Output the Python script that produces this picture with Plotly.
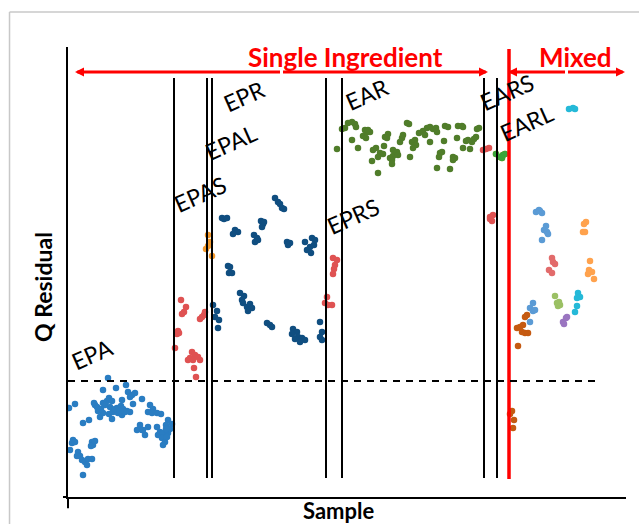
import plotly.graph_objects as go

# ---- data: Q residual per sample (sample index on x) ----
epa_x = [40, 35, 48, 58, 60, 64, 62, 67, 74,
         1, 7, 27, 29, 35, 39, 41, 42, 45, 49, 53, 55, 59, 62, 65,
         32, 35, 41, 45, 50, 54, 57, 44, 21, 15,
         82, 85, 80, 84, 89, 93, 100, 98, 104,
         72, 74, 69, 77, 80, 89, 92, 90, 95, 100, 102,
         94, 97, 99, 95,
         5, 4, 2, 7, 24, 25, 23, 27,
         10, 12, 9, 14, 17, 20, 24, 19, 15,
         37, 54, 75, 98, 47, 52, 30, 33, 26, 44]
epa_q = [119, 107, 109, 112, 105, 102, 100, 104, 98,
         89, 93, 92, 90, 94, 96, 99, 90, 87, 89, 91, 88, 86, 85, 93,
         80, 84, 83, 85, 84, 82, 85, 78, 77, 74,
         92, 88, 85, 84, 84, 83, 77, 72, 73,
         72, 67, 67, 62, 70, 70, 65, 62, 64, 64, 68,
         59, 55, 60, 52,
         57, 54, 47, 55, 55, 52, 51, 56,
         45, 41, 41, 37, 35, 38, 38, 32, 22,
         92, 97, 67, 68, 88, 86, 86, 88, 94, 96]

epas_x = [113, 118, 116, 114, 137, 134, 132, 136, 110, 109, 111, 107,
          124, 127, 122, 120, 130, 132, 125, 126, 128]
epas_q = [197, 190, 185, 183, 185, 180, 178, 182, 166, 163, 164, 149,
          145, 142, 139, 137, 140, 137, 137, 129, 120]

epal_x = [140, 142, 140, 138, 144]
epal_q = [262, 255, 251, 248, 241]

epr_x = [207, 210, 212, 214, 216, 154, 156, 159, 193, 195, 194, 196,
         167, 170, 165, 186, 189, 187, 190, 219, 222, 220,
         237, 244, 247, 242, 239, 243, 246, 160, 162, 161, 164,
         172, 176, 174, 175, 179, 182, 184, 180, 199, 202, 204,
         225, 229, 224, 230, 227, 234, 237, 232, 252, 254, 252, 254,
         145, 149, 147, 151, 150]
epr_q = [299, 295, 293, 289, 288, 279, 278, 279, 276, 273, 270, 275,
         267, 265, 263, 262, 259, 255, 257, 255, 254, 252,
         255, 259, 257, 250, 247, 244, 252, 231, 230, 224, 224,
         204, 201, 197, 194, 190, 193, 189, 186, 174, 172, 170,
         168, 165, 163, 160, 158, 159, 157, 155, 175, 165, 160, 157,
         192, 186, 180, 177, 169]

eprs_x = [265, 269, 267, 266, 265, 259, 257, 260, 264]
eprs_q = [239, 237, 232, 228, 223, 200, 194, 192, 192]

ear_x = [274, 277, 280, 284, 287, 288, 269, 284, 290, 295, 299, 302, 298,
         297, 300, 305, 308, 312, 315, 310, 304, 310, 317, 320, 319, 316,
         322, 325, 324, 324, 325, 329, 330, 332, 334, 335, 339, 341, 342,
         344, 347, 348, 345, 351, 355, 359, 362, 365, 368, 357, 362, 369,
         372, 374, 371, 369, 377, 380, 376, 382, 385, 387, 385, 390, 394,
         395, 389, 395, 398, 400, 404, 406, 408, 402, 409, 411]
ear_q = [368, 369, 374, 375, 373, 370, 348, 357, 349, 361, 365, 365, 359,
         367, 367, 347, 349, 344, 343, 340, 336, 324, 360, 363, 359, 351,
         339, 341, 337, 333, 347, 345, 342, 355, 359, 362, 374, 373, 340,
         355, 357, 352, 349, 364, 366, 369, 370, 368, 369, 362, 355, 365,
         344, 345, 340, 329, 371, 370, 356, 328, 340, 339, 337, 371, 371,
         370, 359, 349, 356, 357, 355, 358, 360, 348, 368, 369]

ears_x = [415, 418, 421, 422, 425, 424, 422]
ears_q = [347, 348, 349, 280, 282, 276, 278]

earl_x = [428, 432, 435, 437, 434]
earl_q = [343, 340, 342, 343, 339]

# mixtures
mix1_x = [444, 446, 445, 442, 449, 452, 455, 457, 459, 454, 457, 460, 450]
mix1_q = [86, 77, 69, 83, 169, 170, 172, 180, 182, 165, 164, 164, 151]
mix2_x = [462, 465, 465, 467, 462, 468, 471, 474, 472, 478, 476, 479, 480, 474]
mix2_q = [189, 194, 186, 187, 175, 285, 287, 284, 286, 271, 267, 265, 263, 257]
mix3_x = [484, 485, 487, 481, 484]
mix3_q = [239, 235, 233, 227, 224]
mix4_x = [487, 489, 490, 492, 491]
mix4_q = [201, 194, 191, 192, 195]
mix5_x = [495, 498, 499, 496]
mix5_q = [175, 179, 180, 173]
mix6_x = [510, 512, 509, 509, 507, 501, 505, 507]
mix6_q = [204, 200, 199, 191, 185, 388, 389, 388]
mix7_x = [518, 516, 515, 517, 522, 521, 524, 520, 526]
mix7_q = [275, 273, 265, 265, 236, 227, 225, 223, 218]

# group boundaries (sample index) and labels
boundaries = [106, 139, 144, 258, 274, 416, 429]
mixed_start = 441
q_limit = 116
group_labels = ["EPA", "EPAS", "EPAL", "EPR", "EPRS", "EAR", "EARS", "EARL"]
label_x = [24, 132, 163, 176, 285, 299, 439, 458]
label_q = [143, 303, 355, 401, 281, 403, 405, 374]

series = [
    (epa_x, epa_q, "#2a7dc2"),
    (epas_x, epas_q, "#df5252"),
    (epal_x, epal_q, "#f39a2e"),
    (epr_x, epr_q, "#104e80"),
    (eprs_x, eprs_q, "#df5252"),
    (ear_x, ear_q, "#507d2a"),
    (ears_x, ears_q, "#df5252"),
    (earl_x, earl_q, "#f0a030"),
    (earl_x, earl_q, "#3aa63a"),
    (mix1_x, mix1_q, "#c55a11"),
    (mix2_x, mix2_q, "#5b9bd5"),
    (mix3_x, mix3_q, "#e26b6b"),
    (mix4_x, mix4_q, "#9bc064"),
    (mix5_x, mix5_q, "#9a75c0"),
    (mix6_x, mix6_q, "#25b9d8"),
    (mix7_x, mix7_q, "#ffa24d"),
]

FONT = "Lato"
fig = go.Figure()
for xs, qs, col in series:
    fig.add_trace(go.Scatter(x=xs, y=qs, mode="markers",
                             marker=dict(size=6.5, color=col),
                             showlegend=False, hoverinfo="x+y"))

shapes = []
for bx in boundaries:
    shapes.append(dict(type="line", xref="x", yref="y", x0=bx, x1=bx, y0=19, y1=419,
                       line=dict(color="black", width=2)))
shapes.append(dict(type="line", xref="x", yref="y", x0=mixed_start, x1=mixed_start,
                   y0=18, y1=448, line=dict(color="red", width=3.5)))
shapes.append(dict(type="line", xref="x", yref="y", x0=0, x1=527, y0=q_limit, y1=q_limit,
                   line=dict(color="black", width=2, dash="7px,6px")))
# axis stubs past the origin
shapes.append(dict(type="line", xref="paper", yref="paper", x0=0, x1=0, y0=0, y1=-0.025,
                   line=dict(color="black", width=2)))
shapes.append(dict(type="line", xref="paper", yref="paper", x0=-0.009, x1=0, y0=0, y1=0,
                   line=dict(color="black", width=2)))
# light frame
shapes.append(dict(type="line", xref="paper", yref="paper", x0=-0.1048, x1=-0.1048,
                   y0=-0.1, y1=1.0778, line=dict(color="#c8c8c8", width=1.5)))
shapes.append(dict(type="line", xref="paper", yref="paper", x0=-0.1048, x1=1.05,
                   y0=1.0778, y1=1.0778, line=dict(color="#c8c8c8", width=1.5)))

ann = []
for txt, lx, lq in zip(group_labels, label_x, label_q):
    ann.append(dict(x=lx, y=lq, xref="x", yref="y", text=txt, showarrow=False,
                    textangle=-24, font=dict(family=FONT, size=23, color="black")))

# double-headed range arrows
def double_arrow(x0, x1, y):
    mid = (x0 + x1) / 2
    out = []
    for tip in (x0, x1):
        out.append(dict(x=tip, y=y, ax=mid, ay=y, xref="x", yref="y", axref="x", ayref="y",
                        text="", showarrow=True, arrowhead=2, arrowsize=0.6,
                        arrowwidth=3, arrowcolor="red", standoff=0, startstandoff=0))
    return out

ann += double_arrow(7, 420, 425)
ann += double_arrow(440, 557, 425)
ann.append(dict(x=277, y=440, xref="x", yref="y", text="<b>Single Ingredient</b>", showarrow=False,
                font=dict(family=FONT, size=26, color="red")))
ann.append(dict(x=507, y=440, xref="x", yref="y", text="<b>Mixed</b>", showarrow=False,
                font=dict(family=FONT, size=26, color="red")))
ann.append(dict(x=-0.0448, y=0.4667, xref="paper", yref="paper", text="<b>Q Residual</b>",
                showarrow=False, textangle=-90, xanchor="center", yanchor="middle",
                font=dict(family=FONT, size=23, color="black")))
ann.append(dict(x=0.484, y=-0.0295, xref="paper", yref="paper", text="<b>Sample</b>",
                showarrow=False, xanchor="center", yanchor="middle",
                font=dict(family=FONT, size=22, color="black")))

fig.update_layout(
    width=639, height=524,
    margin=dict(l=68, r=13, t=47, b=27),
    paper_bgcolor="white", plot_bgcolor="white",
    xaxis=dict(range=[0, 558], showgrid=False, zeroline=False, showticklabels=False,
               ticks="", showline=True, linecolor="black", linewidth=2),
    yaxis=dict(range=[0, 450], showgrid=False, zeroline=False, showticklabels=False,
               ticks="", showline=True, linecolor="black", linewidth=2),
    shapes=shapes, annotations=ann, showlegend=False,
)

fig.write_html("out.html")
